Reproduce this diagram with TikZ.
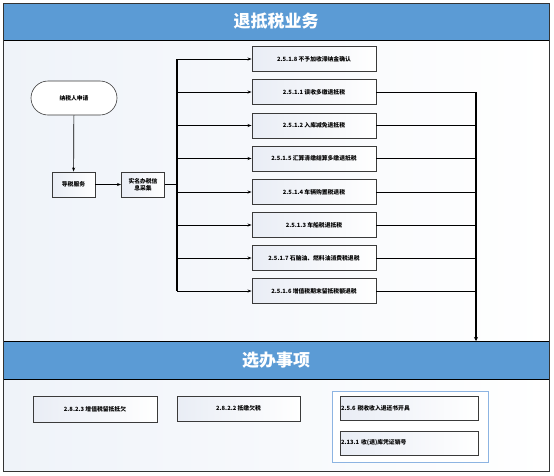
\documentclass[tikz,border=0pt]{standalone}
\usepackage{fontspec}
\newfontfamily\cjk{Noto Sans CJK SC}
\usetikzlibrary{arrows.meta}
\definecolor{band}{HTML}{5B9BD5}
\definecolor{bodybg}{HTML}{EFF3F9}
\definecolor{boxbg}{HTML}{E9EDF5}
\definecolor{grpline}{HTML}{8DB4E2}
\definecolor{boxline}{HTML}{3A3A3A}
\begin{document}
\begin{tikzpicture}[x=1pt,y=-1pt,
  font=\cjk\bfseries\fontsize{5.8}{7.2}\selectfont,
  box/.style={draw=boxline, line width=0.9pt, left color=boxbg, right color=white,
    minimum width=124pt, minimum height=25pt, inner sep=1pt},
  sbox/.style={box, minimum width=43pt},
  term/.style={draw=boxline, line width=0.6pt, fill=white, rounded corners=17pt,
    minimum width=86pt, minimum height=34pt},
  lbox/.style={box, minimum width=138pt, minimum height=24pt, text width=136pt, align=left},
  arr/.style={-{Stealth[length=4pt,width=3pt]}, line width=0.7pt},
  conn/.style={line width=0.7pt},
  thick conn/.style={line width=1.6pt},
  title/.style={text=white, font=\cjk\bfseries\fontsize{17}{20}\selectfont}]
\useasboundingbox (0,0) rectangle (554,475);
% backgrounds
\shade[left color=bodybg, right color=white] (3,40) rectangle (549,341);
\shade[left color=bodybg, right color=white] (3,379) rectangle (549,471);
\fill[band] (3,3) rectangle (549,40);
\fill[band] (3,341) rectangle (549,379);
\draw[line width=0.7pt] (3,40) -- (549,40);
\draw[line width=0.7pt] (3,341) -- (549,341);
\draw[line width=0.7pt] (3,379) -- (549,379);
\draw[line width=1pt, black!80] (3,3) rectangle (549,471);
\node[title] (t1) at (276,21) {退抵税业务};
\node[title] (t2) at (276,360) {选办事项};
% flow
\node[term] (start) at (74,98) {纳税人申请};
\node[sbox] (guide) at (73.5,184.5) {导税服务};
\node[sbox, align=center] (real) at (143,184.5) {实名办税信\\息采集};
\draw[arr] (start) -- (guide);
\draw[arr] (guide) -- (real);
\node[box] (b1) at (314,59) {2.5.1.8 不予加收滞纳金确认};
\node[box] (b2) at (314,92) {2.5.1.1 误收多缴退抵税};
\node[box] (b3) at (314,125.5) {2.5.1.2 入库减免退抵税};
\node[box] (b4) at (314,158.5) {2.5.1.5 汇算清缴结算多缴退抵税};
\node[box] (b5) at (314,192) {2.5.1.4 车辆购置税退税};
\node[box] (b6) at (314,225) {2.5.1.3 车船税退抵税};
\node[box] (b7) at (314,258) {2.5.1.7 石脑油、燃料油消费税退税};
\node[box] (b8) at (314,291) {2.5.1.6 增值税期末留抵税额退税};
\coordinate (busT) at (177,59);
\coordinate (busB) at (177,291);
\draw[thick conn] (real.east) -- (real.east -| busT);
\draw[thick conn] (busT) -- (busB);
\foreach \b in {b1,b2,b3,b4,b5,b6,b7,b8}
  \draw[arr] (busT |- \b.west) -- (\b.west);
\coordinate (rT) at (476,92);
\coordinate (rB) at (476,341);
\foreach \b in {b2,b3,b4,b5,b6,b7,b8}
  \draw[conn] (\b.east) -- (\b.east -| rT);
\draw[thick conn, -{Stealth[length=4pt,width=4pt]}] (rT) -- (rB);
% optional items
\node[box, minimum height=26pt] (c1) at (95,409) {2.8.2.3 增值税留抵抵欠};
\node[box, minimum width=123pt] (c2) at (238.5,408.5) {2.8.2.2 抵缴欠税};
\node[draw=grpline, line width=1pt, fill=white, minimum width=156pt, minimum height=71pt] (grp) at (410,426.5) {};
\node[lbox] (d1) at (409,408) {2.5.6 税收收入退还书开具};
\node[lbox] (d2) at (409,443) {2.13.1 收(退)库凭证销号};
\end{tikzpicture}
\end{document}
